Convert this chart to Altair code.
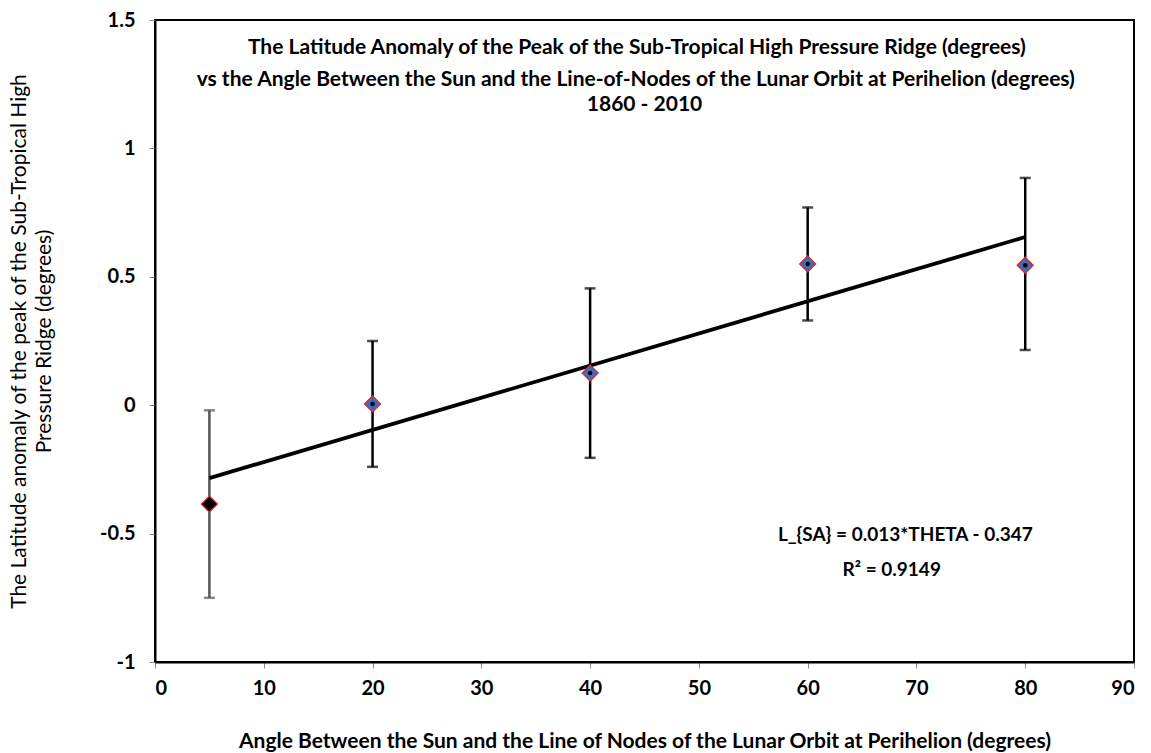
import altair as alt
import pandas as pd

angles = [5, 20, 40, 60, 80]
anomaly = [-0.385, 0.005, 0.125, 0.55, 0.545]
err_hi = [-0.02, 0.25, 0.455, 0.77, 0.885]
err_lo = [-0.75, -0.24, -0.205, 0.33, 0.215]
bar_colors = ["#555555", "#000000", "#000000", "#000000", "#000000"]
fill_colors = ["#000000", "#3A6EB5", "#3A6EB5", "#3A6EB5", "#3A6EB5"]

trend_x = [5, 80]
trend_y = [-0.284, 0.655]

title_lines = [
    "The Latitude Anomaly of the Peak of the Sub-Tropical High Pressure Ridge (degrees)",
    "vs  the Angle Between the Sun and the Line-of-Nodes of the Lunar Orbit at Perihelion (degrees)",
    "1860 - 2010",
]
title_x = [44.3, 44.2, 45.0]
title_y = [1.39, 1.265, 1.17]
eq_text = ["L_{SA} = 0.013*THETA - 0.347", "R² = 0.9149"]
eq_x = [80.7, 63.2]
eq_y = [-0.507, -0.64]

FONT = "Lato"

df = pd.DataFrame({"x": angles, "y": anomaly, "hi": err_hi, "lo": err_lo,
                   "bc": bar_colors, "fc": fill_colors})
tdf = pd.DataFrame({"x": trend_x, "y": trend_y})
ttl = pd.DataFrame({"t": title_lines, "y": title_y, "x": title_x})
eqd = pd.DataFrame({"t": eq_text, "x": eq_x, "y": eq_y})

xscale = alt.Scale(domain=[0, 90], nice=False)
yscale = alt.Scale(domain=[-1, 1.5], nice=False)

xaxis = alt.Axis(values=list(range(0, 91, 10)), grid=False, tickColor="#888888",
                 tickSize=6, domainColor="black", domainWidth=2,
                 labelFont=FONT, labelFontSize=20, labelFontWeight="bold", labelColor="black",
                 labelPadding=10,
                 title="Angle Between the Sun and the Line of Nodes of the Lunar Orbit at Perihelion  (degrees)",
                 titleFont=FONT, titleFontSize=21, titleFontWeight="bold", titleColor="black",
                 titlePadding=32)
yaxis = alt.Axis(values=[-1, -0.5, 0, 0.5, 1, 1.5], grid=False, tickColor="#888888",
                 tickSize=6, domainColor="black", domainWidth=2,
                 labelFont=FONT, labelFontSize=20, labelFontWeight="bold", labelColor="black",
                 labelPadding=14, labelExpr="datum.value + ''",
                 title=["The Latitude anomaly of the peak of the Sub-Tropical High",
                        "Pressure Ridge (degrees)"],
                 titleFont=FONT, titleFontSize=21, titleFontWeight="normal", titleColor="black",
                 titlePadding=45, titleLineHeight=25)

base = alt.Chart(df)

rules = base.mark_rule(strokeWidth=2.5).encode(
    x=alt.X("x:Q", scale=xscale, axis=xaxis),
    y=alt.Y("lo:Q", scale=yscale, axis=yaxis),
    y2="hi:Q",
    color=alt.Color("bc:N", scale=None),
)
cap_hi = base.mark_tick(orient="horizontal", size=11, thickness=2.5).encode(
    x="x:Q", y="hi:Q", color=alt.Color("bc:N", scale=None))
cap_lo = base.mark_tick(orient="horizontal", size=11, thickness=2.5).encode(
    x="x:Q", y="lo:Q", color=alt.Color("bc:N", scale=None))

trend = alt.Chart(tdf).mark_line(color="black", strokeWidth=3.8).encode(
    x="x:Q", y="y:Q")

points = base.mark_point(shape="diamond", size=260, filled=True, stroke="#e8212b",
                         strokeWidth=1.2, opacity=1).encode(
    x="x:Q", y="y:Q", fill=alt.Fill("fc:N", scale=None))
dots = base.mark_circle(size=20, color="black", opacity=1).encode(x="x:Q", y="y:Q")

title_text = alt.Chart(ttl).mark_text(font=FONT, fontSize=21, fontWeight="bold",
                                      color="black", align="center", baseline="middle").encode(
    x="x:Q", y="y:Q", text="t:N")

eq1 = alt.Chart(eqd.iloc[[0]]).mark_text(font=FONT, fontSize=19, fontWeight="bold",
                                         color="black", baseline="middle", align="right").encode(
    x="x:Q", y="y:Q", text="t:N")
eq2 = alt.Chart(eqd.iloc[[1]]).mark_text(font=FONT, fontSize=19, fontWeight="bold",
                                         color="black", baseline="middle", align="left").encode(
    x="x:Q", y="y:Q", text="t:N")

chart = alt.layer(rules, cap_hi, cap_lo, trend, points, dots, title_text, eq1, eq2).properties(
    width=979, height=642,
    background="white",
    autosize=alt.AutoSizeParams(type="none"),
    padding={"left": 155, "top": 20, "right": 17, "bottom": 91},
).configure_view(stroke="black", strokeWidth=2)

chart.save("out.html", embed_options={"renderer": "svg", "actions": False})
